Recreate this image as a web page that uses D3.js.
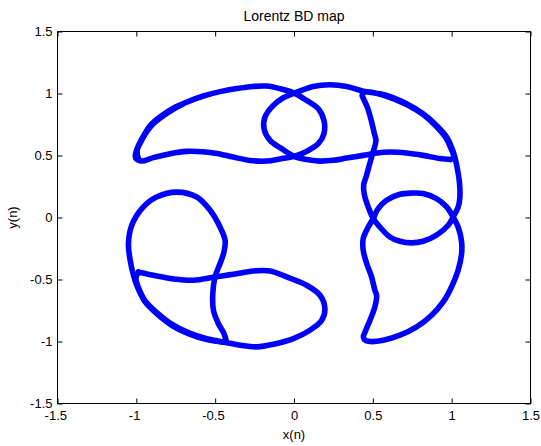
<!DOCTYPE html>
<html>
<head>
<meta charset="utf-8">
<script src="https://cdn.jsdelivr.net/npm/d3@7"></script>
<style>
  body { margin: 0; background: #fff; }
  text { font-family: Arial, "Liberation Sans", sans-serif; fill: #000; }
  .axis path { display: none; }
  .axis line { stroke: #000; }
  .curve { fill: none; stroke: #0000ff; stroke-width: 5.6; stroke-linejoin: round; stroke-linecap: round; }
</style>
</head>
<body>
<div id="box"></div>
<script>
// chart texts
const titleText = 'Lorentz BD map';
const xLabelText = 'x(n)';
const yLabelText = 'y(n)';

// ticks
const xTickValues = [-1.5, -1, -0.5, 0, 0.5, 1, 1.5];
const xTickLabels = ['-1.5', '-1', '-0.5', '0', '0.5', '1', '1.5'];
const yTickValues = [-1.5, -1, -0.5, 0, 0.5, 1, 1.5];
const yTickLabels = ['-1.5', '-1', '-0.5', '0', '0.5', '1', '1.5'];

// trajectory pieces [x(n), y(n)]
const topCrescent = [
  [-0.976,0.458],[-1.003,0.475],[-1.006,0.505],[-0.995,0.555],[-0.970,0.622],[-0.913,0.740],
  [-0.840,0.820],[-0.760,0.885],[-0.680,0.931],[-0.575,0.980],[-0.469,1.015],[-0.363,1.040],
  [-0.258,1.057],[-0.173,1.060],[-0.089,1.039],[0.002,1.003],[0.080,0.944],[0.154,0.877],
  [0.190,0.783],[0.190,0.676],[0.154,0.595],[0.091,0.541],[0.002,0.493],[-0.089,0.472],
  [-0.173,0.455],[-0.279,0.460],[-0.385,0.487],[-0.490,0.517],[-0.580,0.530],[-0.680,0.533],
  [-0.786,0.515],[-0.892,0.483],[-0.976,0.458],[-0.995,0.540],[-0.975,0.600],[-0.945,0.672],
  [-0.905,0.740],[-0.838,0.812],[-0.758,0.878],[-0.700,0.917]
];
const topRightBranch = [
  [0.995,0.468],[0.925,0.475],[0.819,0.501],[0.714,0.520],[0.608,0.528],[0.524,0.520],
  [0.439,0.501],[0.334,0.479],[0.249,0.461],[0.165,0.455],[0.080,0.467],[0.002,0.493],
  [-0.078,0.555],[-0.152,0.622],[-0.190,0.716],[-0.184,0.810],[-0.131,0.904],[-0.068,0.966],
  [0.002,1.003],[0.122,1.057],[0.228,1.071],[0.334,1.057],[0.439,1.019],[0.587,0.985],
  [0.714,0.918],[0.819,0.837],[0.904,0.743],[0.968,0.649],[0.999,0.568],[1.020,0.488],
  [1.038,0.380],[1.050,0.273],[1.052,0.160],[1.040,0.080],[1.009,0.004],[0.978,-0.063],
  [0.904,-0.143],[0.819,-0.192],[0.746,-0.205],[0.672,-0.192],[0.608,-0.157],[0.545,-0.077],
  [0.503,-0.009],[0.471,0.085],[0.446,0.185],[0.442,0.265],[0.458,0.330],[0.480,0.434],
  [0.505,0.541],[0.520,0.622],[0.510,0.676],[0.490,0.783],[0.465,0.890],[0.440,0.960],
  [0.432,0.985],[0.452,1.012],[0.587,0.978],[0.714,0.911],[0.819,0.830],[0.900,0.738],
  [0.962,0.645],[0.993,0.565],[1.012,0.488],[0.995,0.468]
];
const rightLoop = [
  [0.503,-0.009],[0.534,0.072],[0.587,0.139],[0.672,0.187],[0.746,0.197],[0.819,0.193],
  [0.904,0.152],[0.968,0.085],[1.009,0.004],[1.041,-0.077],[1.063,-0.197],[1.063,-0.291],
  [1.041,-0.425],[0.999,-0.560],[0.946,-0.681],[0.873,-0.788],[0.778,-0.882],[0.672,-0.949],
  [0.566,-0.990],[0.482,-1.000],[0.447,-0.985],[0.440,-0.960],[0.452,-0.920],[0.482,-0.828],
  [0.513,-0.721],[0.524,-0.627],[0.513,-0.587],[0.492,-0.479],[0.461,-0.371],[0.439,-0.264],
  [0.439,-0.170],[0.471,-0.077],[0.503,-0.009]
];
const bottomLoop = [
  [-0.431,-0.990],[-0.444,-0.936],[-0.480,-0.855],[-0.511,-0.748],[-0.515,-0.613],[-0.501,-0.479],
  [-0.469,-0.371],[-0.444,-0.278],[-0.437,-0.184],[-0.469,-0.077],[-0.532,0.058],[-0.617,0.165],
  [-0.743,0.205],[-0.872,0.165],[-0.965,0.072],[-1.029,-0.063],[-1.050,-0.210],[-1.039,-0.345],
  [-1.018,-0.466],[-0.993,-0.560],[-0.944,-0.681],[-0.872,-0.774],[-0.776,-0.869],[-0.670,-0.936],
  [-0.553,-0.984],[-0.431,-1.008]
];
const bottomLobe = [
  [-0.987,-0.439],[-0.892,-0.466],[-0.765,-0.495],[-0.638,-0.506],[-0.501,-0.479],[-0.385,-0.458],
  [-0.258,-0.431],[-0.152,-0.431],[-0.046,-0.479],[0.080,-0.546],[0.165,-0.627],[0.196,-0.734],
  [0.176,-0.828],[0.101,-0.909],[-0.004,-0.976],[-0.131,-1.022],[-0.236,-1.043],[-0.342,-1.030],
  [-0.431,-1.008],[-0.553,-0.978],[-0.670,-0.928],[-0.776,-0.860],[-0.872,-0.765],[-0.944,-0.672],
  [-0.988,-0.560],[-1.003,-0.490],[-0.987,-0.439]
];
const pieces = [topCrescent, topRightBranch, rightLoop, bottomLoop, bottomLobe];

const margin = { top: 31.5, right: 10.5, bottom: 42.5, left: 57.5 };
const width = 541 - margin.left - margin.right;
const height = 446 - margin.top - margin.bottom;

const svg = d3.select('#box').append('svg')
    .attr('width', 541)
    .attr('height', 446)
    .append('g')
    .attr('transform', `translate(${margin.left},${margin.top})`);

const x = d3.scaleLinear().domain([-1.5, 1.5]).range([0, width]);
const y = d3.scaleLinear().domain([-1.5, 1.5]).range([height, 0]);

const fmtX = d => xTickLabels[xTickValues.indexOf(d)];
const fmtY = d => yTickLabels[yTickValues.indexOf(d)];

// bottom / left axes with labels, ticks pointing inward
const xAxis = svg.append('g').attr('class', 'axis')
    .attr('transform', `translate(0,${height})`)
    .call(d3.axisBottom(x).tickValues(xTickValues).tickFormat(fmtX).tickSizeInner(-5).tickSizeOuter(0).tickPadding(7));
xAxis.selectAll('text').attr('font-size', '13px').attr('dx', d => d < 0 ? -2.2 : 0);

const yAxis = svg.append('g').attr('class', 'axis')
    .call(d3.axisLeft(y).tickValues(yTickValues).tickFormat(fmtY).tickSizeInner(-5).tickSizeOuter(0).tickPadding(5));
yAxis.selectAll('text').attr('font-size', '13px');

// top / right ticks, no labels
svg.append('g').attr('class', 'axis')
    .call(d3.axisTop(x).tickValues(xTickValues).tickFormat('').tickSizeInner(-5).tickSizeOuter(0));
svg.append('g').attr('class', 'axis')
    .attr('transform', `translate(${width},0)`)
    .call(d3.axisRight(y).tickValues(yTickValues).tickFormat('').tickSizeInner(-5).tickSizeOuter(0));

// box
svg.append('rect')
    .attr('width', width)
    .attr('height', height)
    .attr('fill', 'none')
    .attr('stroke', '#000');

// the trajectory
const line = d3.line()
    .x(d => x(d[0]))
    .y(d => y(d[1]))
    .curve(d3.curveCatmullRom);

svg.selectAll('.curve')
    .data(pieces)
    .enter().append('path')
    .attr('class', 'curve')
    .attr('d', line);

// title and labels
svg.append('text')
    .attr('x', x(0)).attr('y', -11)
    .attr('text-anchor', 'middle')
    .attr('font-size', '14px')
    .text(titleText);

svg.append('text')
    .attr('x', x(0)).attr('y', height + 35)
    .attr('text-anchor', 'middle')
    .attr('font-size', '13px')
    .text(xLabelText);

svg.append('text')
    .attr('transform', `translate(-41,${y(0)}) rotate(-90)`)
    .attr('text-anchor', 'middle')
    .attr('font-size', '13px')
    .text(yLabelText);
</script>
</body>
</html>
